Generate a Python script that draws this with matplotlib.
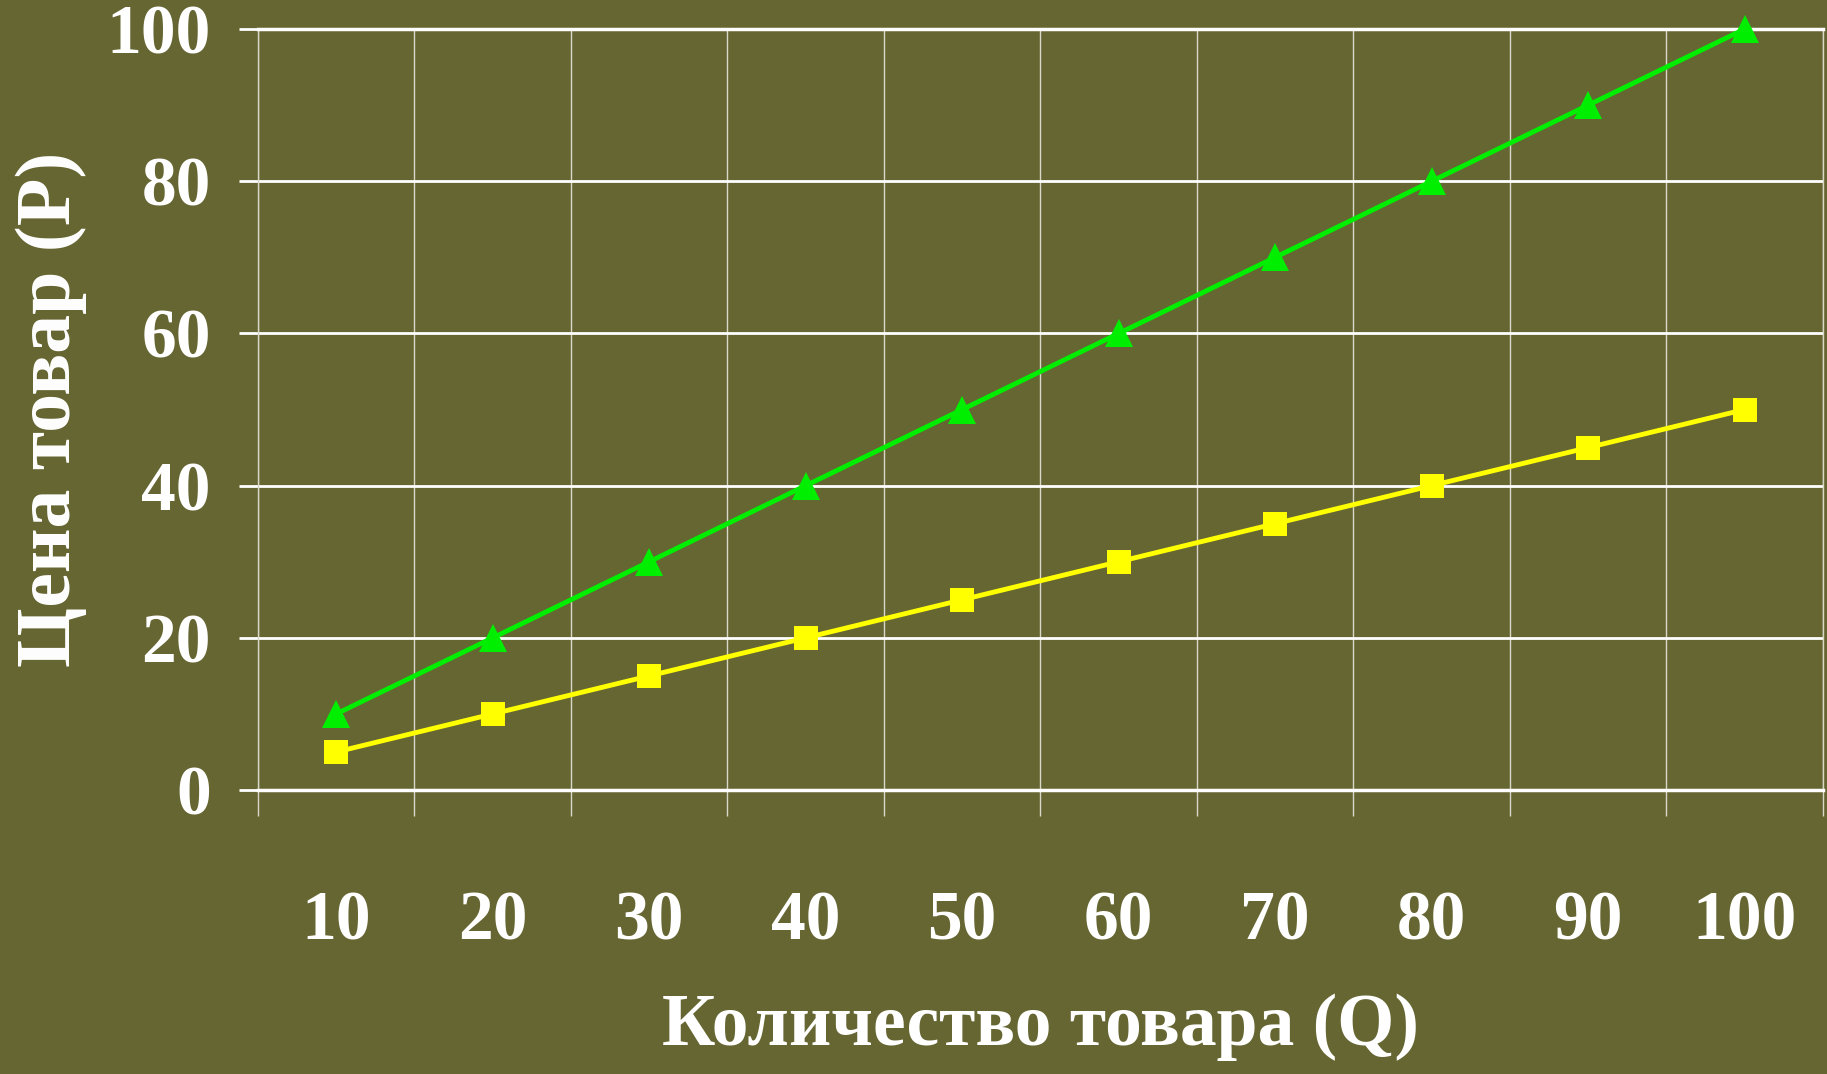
# plot.py
# Supply / price chart: Цена товар (Р) vs Количество товара (Q)

import numpy as np
import matplotlib.pyplot as plt
from matplotlib.ticker import FixedLocator, FixedFormatter

# ---- DATA ----
quantity = ["10", "20", "30", "40", "50", "60", "70", "80", "90", "100"]
price_green = [10, 20, 30, 40, 50, 60, 70, 80, 90, 100]
price_yellow = [5, 10, 15, 20, 25, 30, 35, 40, 45, 50]
y_ticks = [0, 20, 40, 60, 80, 100]

x_label = "Количество товара (Q)"
y_label = "Цена товар (Р)"

# ---- STYLE ----
BG = "#666633"
plt.rcParams["font.family"] = ["Liberation Serif", "DejaVu Serif"]
plt.rcParams["font.weight"] = "bold"

fig = plt.figure(figsize=(18.27, 10.74), dpi=100, facecolor=BG)
ax = fig.add_axes([0.1412, 0.2644, 0.9978 - 0.1412, 0.973 - 0.2644])
ax.set_facecolor(BG)

x = np.arange(1, len(quantity) + 1)

# ---- LINES ----
ax.plot(x, price_green, color="#00EE00", lw=3.5, marker="^", markersize=20,
        markeredgewidth=0, clip_on=False, zorder=4)
ax.plot(x, price_yellow, color="#FFFF00", lw=3.5, marker="s", markersize=17,
        markeredgewidth=0, clip_on=False, zorder=4)

# ---- AXES ----
ax.set_xlim(0.5, len(quantity) + 0.5)
ax.set_ylim(0, 100)

# category labels at centres, grid at the boundaries
ax.xaxis.set_major_locator(FixedLocator(x))
ax.xaxis.set_major_formatter(FixedFormatter(quantity))
ax.xaxis.set_minor_locator(FixedLocator(np.arange(0.5, len(quantity) + 1, 1)))
ax.set_yticks(y_ticks)

ax.tick_params(axis="x", which="major", length=0, pad=72,
               labelsize=50, labelcolor="white")
ax.tick_params(axis="x", which="minor", length=19, width=1,
               color="#D8D8C8", direction="out")
ax.tick_params(axis="y", which="major", length=14, width=2,
               color="white", direction="out", pad=20,
               labelsize=50, labelcolor="white")

ax.grid(axis="x", which="minor", color="#D8D8C8", lw=1)
ax.grid(axis="y", which="major", color="white", lw=2)
ax.set_axisbelow(True)

for side in ["top", "bottom"]:
    ax.spines[side].set_color("white")
    ax.spines[side].set_linewidth(2.5)
for side in ["left", "right"]:
    ax.spines[side].set_color("#D8D8C8")
    ax.spines[side].set_linewidth(1)

for lbl in ax.get_xticklabels() + ax.get_yticklabels():
    lbl.set_fontweight("bold")

ax.set_xlabel(x_label, fontsize=53, color="white", fontweight="bold", labelpad=28)
ax.set_ylabel(y_label, fontsize=56, color="white", fontweight="bold", labelpad=14)

plt.savefig("out.png", dpi=100, facecolor=BG)
